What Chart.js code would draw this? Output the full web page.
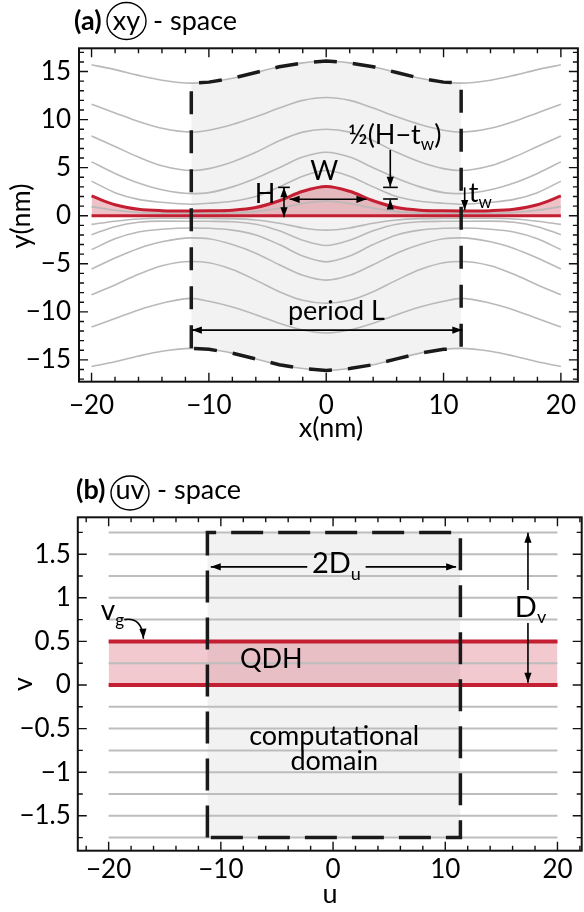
<!DOCTYPE html>
<html>
<head>
<meta charset="utf-8">
<script src="https://cdn.jsdelivr.net/npm/chart.js@4.4.1/dist/chart.umd.min.js"></script>
<style>
html, body { margin: 0; padding: 0; background: #fff; }
#wrap { position: relative; width: 584px; height: 912px; }
canvas { position: absolute; left: 0; }
</style>
</head>
<body>
<div id="wrap">
  <canvas id="xyChart" width="584" height="456" style="top:0px"></canvas>
  <canvas id="uvChart" width="584" height="456" style="top:456px"></canvas>
</div>
<script>
// ---- panel (a): xy-space ----
var xSamples = [-20, -18, -16, -14, -11.5, -10, -8, -6, -4, -2, 0, 2, 4, 6, 8, 10, 11.5, 14, 16, 18, 20];

var yP175 = [15.7, 15.2, 14.6, 14.1, 13.8, 13.9, 14.3, 14.9, 15.5, 15.9, 16.1, 15.9, 15.5, 14.9, 14.3, 13.9, 13.8, 14.1, 14.6, 15.2, 15.7];
var yP150 = [11.6, 10.7, 9.8, 9.1, 8.7, 8.9, 9.5, 10.3, 11.2, 12.0, 12.3, 12.0, 11.2, 10.3, 9.5, 8.9, 8.7, 9.1, 9.8, 10.7, 11.6];
var yP125 = [8.3, 7.2, 6.1, 5.2, 4.7, 4.9, 5.6, 6.6, 7.8, 8.7, 9.0, 8.7, 7.8, 6.6, 5.6, 4.9, 4.7, 5.2, 6.1, 7.2, 8.3];
var yP100 = [5.6, 4.4, 3.4, 2.7, 2.3, 2.4, 3.0, 3.9, 5.0, 6.1, 6.6, 6.1, 5.0, 3.9, 3.0, 2.4, 2.3, 2.7, 3.4, 4.4, 5.6];
var yP075 = [3.6, 2.4, 1.7, 1.4, 1.2, 1.3, 1.5, 2.0, 3.0, 4.1, 4.7, 4.1, 3.0, 2.0, 1.5, 1.3, 1.2, 1.4, 1.7, 2.4, 3.6];
var yQdhTop = [2.06, 1.14, 0.67, 0.53, 0.5, 0.51, 0.58, 0.86, 1.56, 2.54, 3.05, 2.54, 1.56, 0.86, 0.58, 0.51, 0.5, 0.53, 0.67, 1.14, 2.06];
var yP025 = [0.95, 0.57, 0.34, 0.27, 0.25, 0.26, 0.29, 0.43, 0.78, 1.27, 1.52, 1.27, 0.78, 0.43, 0.29, 0.26, 0.25, 0.27, 0.34, 0.57, 0.95];
var yQdhBottom = [0, 0, 0, 0, 0, 0, 0, 0, 0, 0, 0, 0, 0, 0, 0, 0, 0, 0, 0, 0, 0];
var yM025 = [-0.9, -0.57, -0.34, -0.27, -0.26, -0.27, -0.3, -0.44, -0.78, -1.27, -1.5, -1.27, -0.78, -0.44, -0.3, -0.27, -0.26, -0.27, -0.34, -0.57, -0.9];
var yM050 = [-1.97, -1.14, -0.68, -0.56, -0.57, -0.58, -0.62, -0.88, -1.56, -2.55, -3.1, -2.55, -1.56, -0.88, -0.62, -0.58, -0.57, -0.56, -0.68, -1.14, -1.97];
var yM075 = [-3.53, -2.4, -1.7, -1.4, -1.27, -1.3, -1.5, -2.0, -3.0, -4.2, -4.8, -4.2, -3.0, -2.0, -1.5, -1.3, -1.27, -1.4, -1.7, -2.4, -3.53];
var yM100 = [-5.55, -4.4, -3.4, -2.7, -2.3, -2.4, -3.0, -3.9, -5.1, -6.2, -6.7, -6.2, -5.1, -3.9, -3.0, -2.4, -2.3, -2.7, -3.4, -4.4, -5.55];
var yM125 = [-8.22, -7.2, -6.1, -5.2, -4.76, -4.9, -5.6, -6.7, -7.9, -8.8, -9.1, -8.8, -7.9, -6.7, -5.6, -4.9, -4.76, -5.2, -6.1, -7.2, -8.22];
var yM150 = [-11.58, -10.7, -9.8, -9.1, -8.6, -8.9, -9.5, -10.3, -11.2, -11.9, -12.2, -11.9, -11.2, -10.3, -9.5, -8.9, -8.6, -9.1, -9.8, -10.7, -11.58];
var yM175 = [-15.68, -15.2, -14.6, -14.1, -13.8, -13.9, -14.3, -14.9, -15.5, -15.9, -16.1, -15.9, -15.5, -14.9, -14.3, -13.9, -13.8, -14.1, -14.6, -15.2, -15.68];

var xTicksA = [-20, -10, 0, 10, 20];
var yTicksA = [-15, -10, -5, 0, 5, 10, 15];

// ---- panel (b): uv-space ----
var vLevels = [-1.75, -1.5, -1.25, -1, -0.75, -0.5, -0.25, 0, 0.25, 0.5, 0.75, 1, 1.25, 1.5, 1.75];
var uSpan = [-20, 20];
var qdhV = [0, 0.5];
var domainU = [-11.2, 11.35];
var domainV = [-1.75, 1.75];

var uTicks = [-20, -10, 0, 10, 20];
var vTicks = [-1.5, -1, -0.5, 0, 0.5, 1, 1.5];

var FONT = 'Lato, "Open Sans", sans-serif';
var RED = '#c41e32';

function pts(xs, ys) {
    return xs.map(function (x, i) { return {x: x, y: ys[i]}; });
}

function minusFmt(v) {
    return v < 0 ? '\u2212' + Math.abs(v) : String(v);
}

function curve(data, color, width, extra) {
    var ds = {
        data: data,
        borderColor: color,
        borderWidth: width,
        pointRadius: 0,
        fill: false,
        cubicInterpolationMode: 'monotone'
    };
    return Object.assign(ds, extra || {});
}

// inward ticks on all four sides plus the box
var framePlugin = {
    id: 'frame',
    afterDatasetsDraw: function (chart, args, o) {
        var ctx = chart.ctx, a = chart.chartArea;
        var sx = chart.scales.x, sy = chart.scales.y;
        function each(scale, step, major, cb) {
            var k0 = Math.ceil(scale.min / step - 1e-9);
            for (var k = k0; k * step <= scale.max + 1e-9; k++) {
                var v = k * step;
                var r = v / major;
                cb(v, Math.abs(r - Math.round(r)) < 1e-6);
            }
        }
        ctx.save();
        ctx.strokeStyle = '#111';
        ctx.lineWidth = 1.4;
        ctx.beginPath();
        each(sx, o.xMinor, o.xMajor, function (v, maj) {
            var p = sx.getPixelForValue(v), len = maj ? 9 : 5;
            ctx.moveTo(p, a.bottom); ctx.lineTo(p, a.bottom - len);
            ctx.moveTo(p, a.top); ctx.lineTo(p, a.top + len);
        });
        each(sy, o.yMinor, o.yMajor, function (v, maj) {
            var p = sy.getPixelForValue(v), len = maj ? 9 : 5;
            ctx.moveTo(a.left, p); ctx.lineTo(a.left + len, p);
            ctx.moveTo(a.right, p); ctx.lineTo(a.right - len, p);
        });
        ctx.stroke();
        ctx.lineWidth = 2;
        ctx.strokeRect(a.left, a.top, a.right - a.left, a.bottom - a.top);

        // axis titles
        ctx.fillStyle = '#000';
        ctx.font = '27px ' + FONT;
        ctx.textAlign = 'center';
        ctx.textBaseline = 'alphabetic';
        ctx.fillText(o.xTitle, o.xTitlePos[0], o.xTitlePos[1]);
        ctx.translate(o.yTitlePos[0], o.yTitlePos[1]);
        ctx.rotate(-Math.PI / 2);
        ctx.fillText(o.yTitle, 0, 0);
        ctx.restore();
    }
};

function arrowHead(ctx, x1, y1, x2, y2) {
    var ang = Math.atan2(y2 - y1, x2 - x1), L = 10, W = 3.6;
    ctx.beginPath();
    ctx.moveTo(x2, y2);
    ctx.lineTo(x2 - L * Math.cos(ang) + W * Math.sin(ang), y2 - L * Math.sin(ang) - W * Math.cos(ang));
    ctx.lineTo(x2 - L * Math.cos(ang) - W * Math.sin(ang), y2 - L * Math.sin(ang) + W * Math.cos(ang));
    ctx.closePath();
    ctx.fill();
}

function drawParts(ctx, parts, x, y, size, align) {
    var widths = parts.map(function (p) {
        ctx.font = (p[1] ? Math.round(size * 0.62) : size) + 'px ' + FONT;
        return ctx.measureText(p[0]).width;
    });
    var total = widths.reduce(function (s, w) { return s + w; }, 0);
    var cx = align === 'center' ? x - total / 2 : x;
    ctx.textAlign = 'left';
    ctx.textBaseline = 'alphabetic';
    parts.forEach(function (p, i) {
        ctx.font = (p[1] ? Math.round(size * 0.62) : size) + 'px ' + FONT;
        ctx.fillText(p[0], cx, p[1] ? y + size * 0.22 : y);
        cx += widths[i];
    });
}

// annotations placed in data units through the scales
var notesPlugin = {
    id: 'notes',
    afterDatasetsDraw: function (chart, args, o) {
        var ctx = chart.ctx, sx = chart.scales.x, sy = chart.scales.y;
        function X(v) { return sx.getPixelForValue(v); }
        function Y(v) { return sy.getPixelForValue(v); }
        ctx.save();
        ctx.strokeStyle = '#000';
        ctx.fillStyle = '#000';
        ctx.lineWidth = 1.6;
        (o.items || []).forEach(function (it) {
            if (it.t === 'text') {
                drawParts(ctx, it.parts, X(it.x), Y(it.y), it.size || 27, it.align);
            } else if (it.t === 'bar') {
                ctx.beginPath();
                ctx.moveTo(X(it.x1), Y(it.y)); ctx.lineTo(X(it.x2), Y(it.y));
                ctx.stroke();
            } else if (it.t === 'arrow') {
                var x1 = X(it.x1), y1 = Y(it.y1), x2 = X(it.x2), y2 = Y(it.y2);
                ctx.beginPath();
                ctx.moveTo(x1, y1); ctx.lineTo(x2, y2);
                ctx.stroke();
                if (it.h2) arrowHead(ctx, x1, y1, x2, y2);
                if (it.h1) arrowHead(ctx, x2, y2, x1, y1);
            } else if (it.t === 'curve') {
                ctx.beginPath();
                ctx.moveTo(X(it.x1), Y(it.y1));
                ctx.quadraticCurveTo(X(it.cx), Y(it.cy), X(it.x2), Y(it.y2));
                ctx.stroke();
                arrowHead(ctx, X(it.cx), Y(it.cy), X(it.x2), Y(it.y2));
            }
        });
        ctx.restore();
    }
};

// "(a) (xy) - space" heading
var headPlugin = {
    id: 'heading',
    afterDraw: function (chart, args, o) {
        var ctx = chart.ctx;
        ctx.save();
        ctx.fillStyle = '#000';
        ctx.strokeStyle = '#000';
        ctx.textBaseline = 'alphabetic';
        ctx.textAlign = 'left';
        ctx.font = 'bold 27px ' + FONT;
        ctx.fillText(o.tag, o.x, o.base);
        ctx.font = '27px ' + FONT;
        ctx.lineWidth = 1.4;
        ctx.beginPath();
        ctx.ellipse(o.cx, o.cy, o.rx, o.ry, 0, 0, Math.PI * 2);
        ctx.stroke();
        ctx.textAlign = 'center';
        ctx.fillText(o.circ, o.cx, o.base);
        ctx.textAlign = 'left';
        ctx.fillText(o.rest, o.restX, o.base);
        ctx.restore();
    }
};

function axes(xr, yr, xt, yt, xPad, yPad, yWidth, xHeight) {
    return {
        x: {
            type: 'linear', min: xr[0], max: xr[1],
            afterBuildTicks: function (s) { s.ticks = xt.map(function (v) { return {value: v}; }); },
            afterFit: function (s) { s.height = xHeight; },
            grid: {display: false, drawTicks: false},
            border: {display: false},
            ticks: {color: '#000', padding: xPad, font: {family: FONT, size: 26}, maxRotation: 0, callback: minusFmt}
        },
        y: {
            type: 'linear', min: yr[0], max: yr[1],
            afterBuildTicks: function (s) { s.ticks = yt.map(function (v) { return {value: v}; }); },
            afterFit: function (s) { s.width = yWidth; },
            grid: {display: false, drawTicks: false},
            border: {display: false},
            ticks: {color: '#000', padding: yPad, font: {family: FONT, size: 26}, callback: minusFmt}
        }
    };
}

// ---------- chart (a) ----------
var inDomain = [4, 17];
var domX = xSamples.slice(inDomain[0], inDomain[1]);
var boundary = [{x: domX[0], y: yM175[inDomain[0]]}]
    .concat(pts(domX, yP175.slice(inDomain[0], inDomain[1])))
    .concat(pts(domX, yM175.slice(inDomain[0], inDomain[1])).reverse());

var grayA = [yP025, yP075, yP100, yP125, yP150, yP175, yM025, yM050, yM075, yM100, yM125, yM150, yM175];

var dsA = [
    curve(boundary, '#1a1a1a', 3.5, {borderDash: [23, 16], cubicInterpolationMode: 'default', tension: 0}),
    curve(pts(xSamples, yQdhTop), RED, 3, {fill: 'origin', backgroundColor: 'rgba(196,30,50,0.27)'}),
    curve(pts(xSamples, yQdhBottom), RED, 3)
];
grayA.forEach(function (ys) {
    dsA.push(curve(pts(xSamples, ys), '#b9b9b9', 1.6));
});
dsA.push(curve(pts(domX, yP175.slice(inDomain[0], inDomain[1])), 'transparent', 0, {fill: '+1', backgroundColor: '#f2f2f2'}));
dsA.push(curve(pts(domX, yM175.slice(inDomain[0], inDomain[1])), 'transparent', 0));

var chartA = new Chart(document.getElementById('xyChart'), {
    type: 'line',
    data: {datasets: dsA},
    options: {
        responsive: false,
        animation: false,
        events: [],
        layout: {padding: {top: 48.3, right: 1, left: 0, bottom: 0}},
        scales: axes([-21.07, 21.45], [-17.27, 17.42], xTicksA, yTicksA, 8, 8, 79, 74.3),
        plugins: {
            legend: {display: false},
            tooltip: {enabled: false},
            filler: {drawTime: 'beforeDatasetsDraw'},
            frame: {xMinor: 2, xMajor: 10, yMinor: 1, yMajor: 5,
                xTitle: 'x(nm)', xTitlePos: [331, 437], yTitle: 'y(nm)', yTitlePos: [30, 216]},
            heading: {tag: '(a)', x: 74, base: 30, circ: 'xy', cx: 126.5, cy: 21, rx: 19.5, ry: 18.5, rest: '- space', restX: 153},
            notes: {items: [
                {t: 'text', x: -6.1, y: 1.3, parts: [['H']]},
                {t: 'arrow', x1: -3.6, y1: 1.4, x2: -3.6, y2: 2.95, h2: true},
                {t: 'arrow', x1: -3.6, y1: 1.4, x2: -3.6, y2: -0.17, h2: true},
                {t: 'bar', x1: -4.1, x2: -3.1, y: 2.95},
                {t: 'arrow', x1: -3.12, y1: 1.71, x2: 3.43, y2: 1.71, h1: true, h2: true},
                {t: 'text', x: -0.16, y: 3.71, parts: [['W']], align: 'center'},
                {t: 'text', x: 1.86, y: 7.45, parts: [['\u00bd(H\u2212t'], ['w', 1], [')']]},
                {t: 'arrow', x1: 5.46, y1: 6.84, x2: 5.46, y2: 3.02, h2: true},
                {t: 'bar', x1: 4.85, x2: 6.1, y: 2.95},
                {t: 'bar', x1: 4.85, x2: 6.1, y: 1.74},
                {t: 'arrow', x1: 5.46, y1: 0.72, x2: 5.46, y2: 1.68, h2: true},
                {t: 'text', x: 12.15, y: 1.46, parts: [['t'], ['w', 1]]},
                {t: 'arrow', x1: 11.8, y1: 2.95, x2: 11.8, y2: 0.6, h2: true},
                {t: 'text', x: 0.87, y: -10.9, parts: [['period L']], align: 'center'},
                {t: 'arrow', x1: -11.45, y1: -11.9, x2: 11.6, y2: -11.9, h1: true, h2: true}
            ]}
        }
    },
    plugins: [framePlugin, notesPlugin, headPlugin]
});

// ---------- chart (b) ----------
var rect = pts([domainU[0], domainU[0], domainU[1], domainU[1], domainU[0]],
               [domainV[0], domainV[1], domainV[1], domainV[0], domainV[0]]);

var dsB = [
    curve(rect, '#1a1a1a', 3.5, {borderDash: [32, 15], cubicInterpolationMode: 'default', tension: 0}),
    curve(pts(uSpan, [qdhV[1], qdhV[1]]), RED, 4, {fill: 'origin', backgroundColor: 'rgba(196,30,50,0.24)'}),
    curve(pts(uSpan, [qdhV[0], qdhV[0]]), RED, 4)
];
vLevels.forEach(function (v) {
    dsB.push(curve(pts(uSpan, [v, v]), '#bdbdbd', 2));
});
dsB.push(curve(pts(domainU, [domainV[1], domainV[1]]), 'transparent', 0,
    {fill: {value: domainV[0]}, backgroundColor: '#f2f2f2'}));

var chartB = new Chart(document.getElementById('uvChart'), {
    type: 'line',
    data: {datasets: dsB},
    options: {
        responsive: false,
        animation: false,
        events: [],
        layout: {padding: {top: 61.3, right: 2.3, left: 0, bottom: 0}},
        scales: axes([-22.75, 22.16], [-1.9, 1.923], uTicks, vTicks, 3, 7, 77.8, 61.3),
        plugins: {
            legend: {display: false},
            tooltip: {enabled: false},
            filler: {drawTime: 'beforeDatasetsDraw'},
            frame: {xMinor: 2, xMajor: 10, yMinor: 0.25, yMajor: 0.5,
                xTitle: 'u', xTitlePos: [330, 447], yTitle: 'v', yTitlePos: [31.5, 228]},
            heading: {tag: '(b)', x: 76, base: 43, circ: 'uv', cx: 130, cy: 37, rx: 19, ry: 17, rest: '- space', restX: 157},
            notes: {items: [
                {t: 'arrow', x1: -2.3, y1: 1.355, x2: -10.9, y2: 1.355, h2: true},
                {t: 'arrow', x1: 2.9, y1: 1.355, x2: 10.97, y2: 1.355, h2: true},
                {t: 'text', x: 0.3, y: 1.28, parts: [['2D'], ['u', 1]], size: 29, align: 'center'},
                {t: 'arrow', x1: 17.37, y1: 1.09, x2: 17.37, y2: 1.745, h2: true},
                {t: 'arrow', x1: 17.37, y1: 0.71, x2: 17.37, y2: 0.026, h2: true},
                {t: 'text', x: 17.6, y: 0.78, parts: [['D'], ['v', 1]], size: 29, align: 'center'},
                {t: 'text', x: -20.7, y: 0.745, parts: [['v'], ['g', 1]], size: 28},
                {t: 'curve', x1: -18.6, y1: 0.75, cx: -17.0, cy: 0.78, x2: -16.9, y2: 0.53},
                {t: 'text', x: -8.3, y: 0.19, parts: [['QDH']], size: 27},
                {t: 'text', x: 0.1, y: -0.69, parts: [['computational']], align: 'center'},
                {t: 'text', x: 0.1, y: -0.97, parts: [['domain']], align: 'center'}
            ]}
        }
    },
    plugins: [framePlugin, notesPlugin, headPlugin]
});
</script>
</body>
</html>
